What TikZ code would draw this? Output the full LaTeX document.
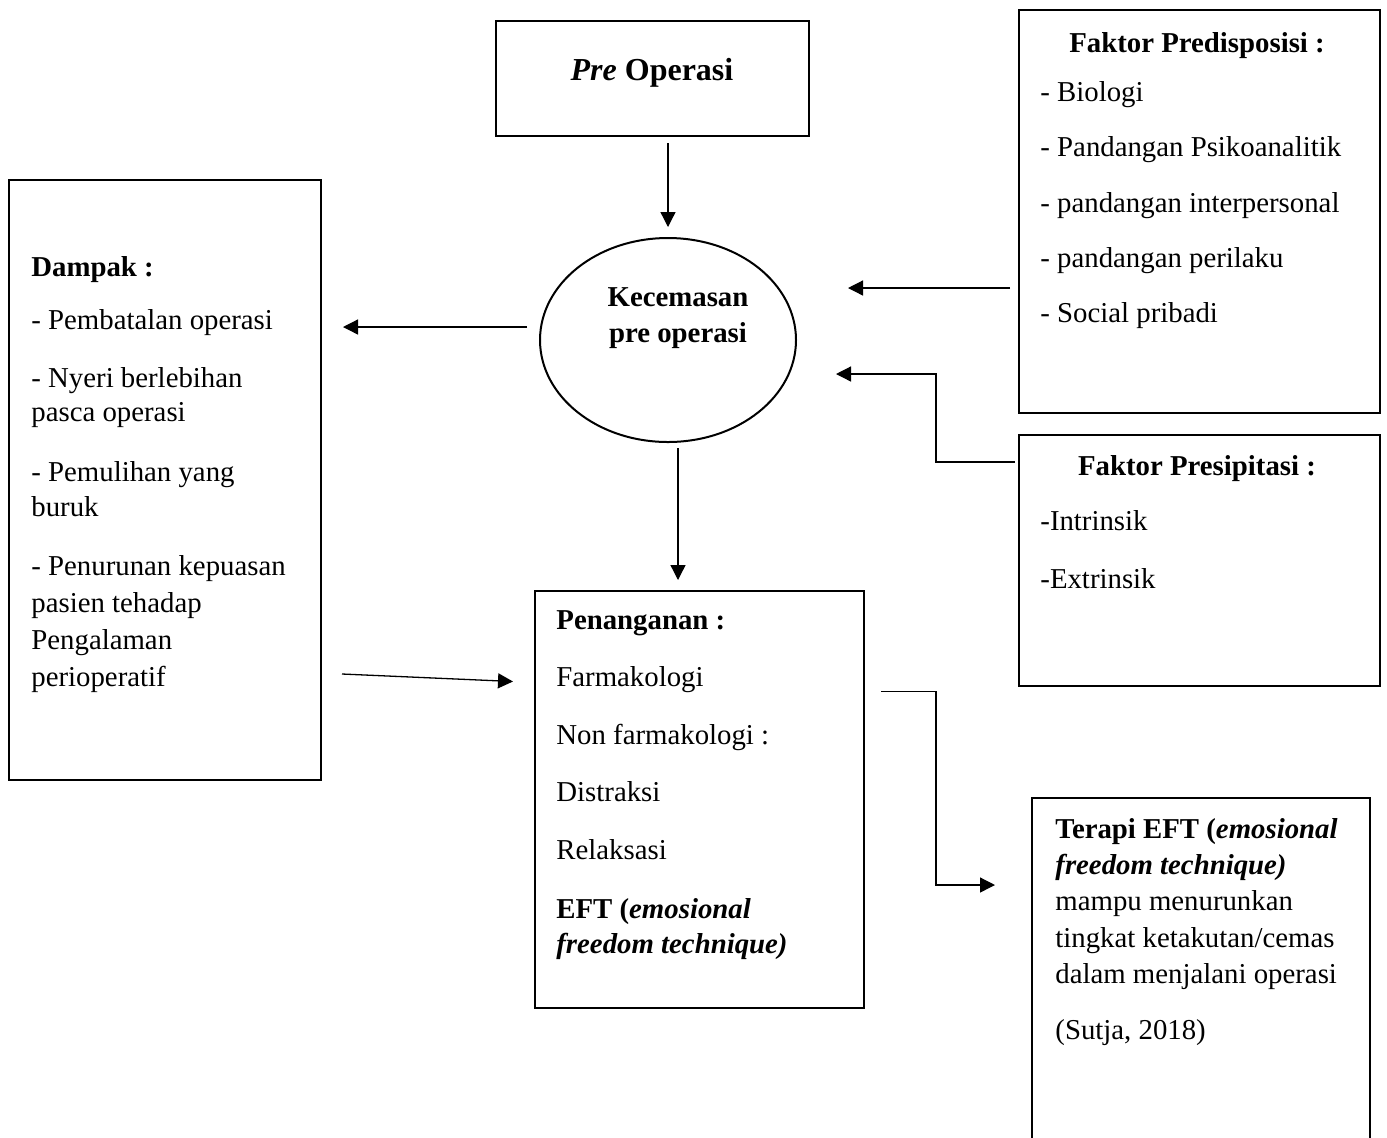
\documentclass[tikz,border=0pt]{standalone}
\usepackage{fontspec}
\setmainfont{Liberation Serif}
\usetikzlibrary{arrows.meta,shapes.geometric}
\begin{document}
\begin{tikzpicture}[x=0.5pt,y=-0.5pt,
  box/.style={draw,line width=1pt,inner sep=0pt,outer sep=0pt},
  arr/.style={line width=0.65pt,-{Triangle[length=7.5pt,width=7.5pt]}},
  txt/.style={anchor=base west,inner sep=0pt,font=\fontsize{14.4}{17.5}\selectfont},
  ctxt/.style={anchor=base,inner sep=0pt,font=\fontsize{14.4}{17.5}\selectfont}]
\useasboundingbox[fill=white] (0,0) rectangle (1387,1137);
% boxes
\node[box,minimum width=156.5pt,minimum height=57.5pt] (pre) at (652.5,78.5) {};
\node[box,minimum width=180.5pt,minimum height=201.5pt] (pred) at (1199.5,211.5) {};
\node[box,minimum width=156pt,minimum height=300pt] (dampak) at (165,480) {};
\node[box,ellipse,minimum width=128pt,minimum height=102pt] (ell) at (668,340) {};
\node[box,minimum width=180.5pt,minimum height=125.5pt] (pres) at (1199.5,560.5) {};
\node[box,minimum width=164.5pt,minimum height=208.5pt] (pen) at (699.5,799.5) {};
\node[inner sep=0pt,outer sep=0pt,minimum width=169pt,minimum height=200pt] (terapi) at (1201,998) {};
\draw[line width=1pt] (terapi.south west) |- (terapi.north east) -- (terapi.south east);
% texts
\node[ctxt,font=\fontsize{16}{19}\selectfont] (tpre) at (652,80) {\textbf{\textit{Pre} Operasi}};
\node[ctxt] (te1) at (678,306) {\textbf{Kecemasan}};
\node[ctxt] (te2) at (678,342) {\textbf{pre operasi}};
\node[ctxt] (pd0) at (1197,52) {\textbf{Faktor Predisposisi :}};
\node[txt] (pd1) at (1040,101) {- Biologi};
\node[txt] (pd2) at (1040,156) {- Pandangan Psikoanalitik};
\node[txt] (pd3) at (1040,212) {- pandangan interpersonal};
\node[txt] (pd4) at (1040,267) {- pandangan perilaku};
\node[txt] (pd5) at (1040,322) {- Social pribadi};
\node[ctxt] (ps0) at (1197,475) {\textbf{Faktor Presipitasi :}};
\node[txt] (ps1) at (1040,530) {-Intrinsik};
\node[txt] (ps2) at (1040,588) {-Extrinsik};
\node[txt] (dp0) at (31,276) {\textbf{Dampak :}};
\node[txt] (dp1) at (31,329) {- Pembatalan operasi};
\node[txt] (dp2) at (31,387) {- Nyeri berlebihan};
\node[txt] (dp3) at (31,421) {pasca operasi};
\node[txt] (dp4) at (31,481) {- Pemulihan yang};
\node[txt] (dp5) at (31,516) {buruk};
\node[txt] (dp6) at (31,575) {- Penurunan kepuasan};
\node[txt] (dp7) at (31,612) {pasien tehadap};
\node[txt] (dp8) at (31,649) {Pengalaman};
\node[txt] (dp9) at (31,686) {perioperatif};
\node[txt] (pn0) at (556,629) {\textbf{Penanganan :}};
\node[txt] (pn1) at (556,686) {Farmakologi};
\node[txt] (pn2) at (556,744) {Non farmakologi :};
\node[txt] (pn3) at (556,801) {Distraksi};
\node[txt] (pn4) at (556,859) {Relaksasi};
\node[txt] (pn5) at (556,918) {\textbf{EFT (\textit{emosional}}};
\node[txt] (pn6) at (556,953) {\textbf{\textit{freedom technique)}}};
\node[txt] (tr1) at (1055,838) {\textbf{Terapi EFT (\textit{emosional}}};
\node[txt] (tr2) at (1055,874) {\textbf{\textit{freedom technique)}}};
\node[txt] (tr3) at (1055,910) {mampu menurunkan};
\node[txt] (tr4) at (1055,947) {tingkat ketakutan/cemas};
\node[txt] (tr5) at (1055,983) {dalam menjalani operasi};
\node[txt] (tr6) at (1055,1039) {(Sutja, 2018)};
% connectors
\draw[arr,shorten <=3.5pt,shorten >=5.5pt] (ell.north |- pre.south) -- (ell.north);
\draw[arr] ([shift={(-13,-13)}]ell.west) -- ([shift={(22,-153)}]dampak.east);
\draw[arr] ([shift={(-9,76.5)}]pred.west) -- ([shift={(180,-52)}]ell.center);
\draw[arr] ([shift={(-4,-98.5)}]pres.west) -| ([shift={(268,34)}]ell.center) -- ([shift={(168,34)}]ell.center);
\draw[arr] ([shift={(10,6)}]ell.south) -- ([shift={(-21.5,-11)}]pen.north);
\draw[arr] ([shift={(21,194)}]dampak.east) -- ([shift={(-22,-118)}]pen.west);
\draw[arr] ([shift={(17,-108)}]pen.east) -| ([shift={(-96,87)}]terapi.north west) -- ([shift={(-37,87)}]terapi.north west);
\end{tikzpicture}
\end{document}
